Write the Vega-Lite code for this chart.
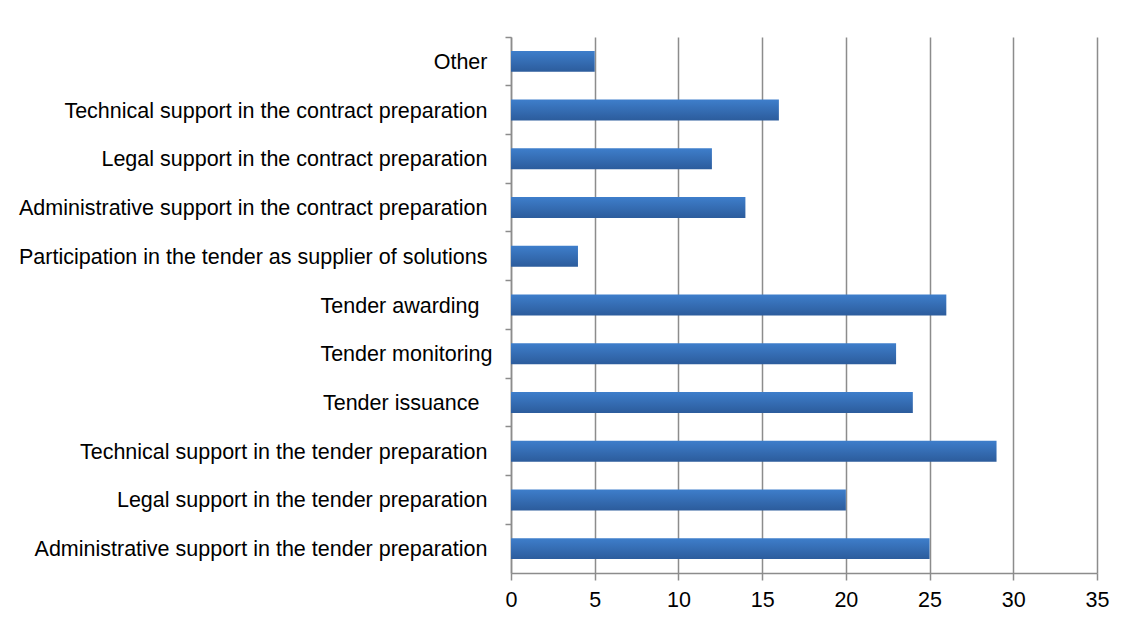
{
  "$schema": "https://vega.github.io/schema/vega-lite/v6.json",
  "width": 586,
  "height": 536,
  "autosize": {"type": "none"},
  "padding": {"left": 511, "top": 37, "right": 35, "bottom": 49},
  "background": "white",
  "config": {"view": {"stroke": null}, "font": "Liberation Sans"},
  "data": {
    "values": [
      {"category": "Other", "value": 5},
      {"category": "Technical support in the contract preparation", "value": 16},
      {"category": "Legal support in the contract preparation", "value": 12},
      {"category": "Administrative support in the contract preparation", "value": 14},
      {"category": "Participation in the tender as supplier of solutions", "value": 4},
      {"category": "Tender awarding", "value": 26},
      {"category": "Tender monitoring", "value": 23},
      {"category": "Tender issuance", "value": 24},
      {"category": "Technical support in the tender preparation", "value": 29},
      {"category": "Legal support in the tender preparation", "value": 20},
      {"category": "Administrative support in the tender preparation", "value": 25}
    ]
  },
  "mark": {
    "type": "bar",
    "height": {"band": 0.43},
    "color": {
      "gradient": "linear",
      "x1": 0, "y1": 0, "x2": 0, "y2": 1,
      "stops": [
        {"offset": 0, "color": "#3e7ecb"},
        {"offset": 1, "color": "#2c5c9c"}
      ]
    }
  },
  "encoding": {
    "y": {
      "field": "category",
      "type": "nominal",
      "sort": null,
      "scale": {"paddingInner": 0, "paddingOuter": 0},
      "axis": {
        "title": null,
        "bandPosition": 0,
        "labelFontSize": 21.5,
        "labelColor": "#000000",
        "labelLimit": 0,
        "labelOffset": 1.5,
        "labelPadding": {
          "condition": [
            {"test": "datum.value === 'Tender awarding' || datum.value === 'Tender issuance'", "value": 26},
            {"test": "datum.value === 'Tender monitoring'", "value": 13}
          ],
          "value": 18
        },
        "tickSize": 6,
        "tickColor": "#8c8c8c",
        "tickWidth": 1.5,
        "domainColor": "#8c8c8c",
        "domainWidth": 1.5
      }
    },
    "x": {
      "field": "value",
      "type": "quantitative",
      "scale": {"domain": [0, 35], "nice": false},
      "axis": {
        "title": null,
        "values": [0, 5, 10, 15, 20, 25, 30, 35],
        "labelFontSize": 21.5,
        "labelFlush": false,
        "labelColor": "#000000",
        "labelPadding": 9,
        "tickSize": 7,
        "tickColor": "#8c8c8c",
        "tickWidth": 1.5,
        "domainColor": "#8c8c8c",
        "domainWidth": 1.5,
        "grid": true,
        "gridColor": "#8c8c8c",
        "gridWidth": 1.5
      }
    }
  }
}
